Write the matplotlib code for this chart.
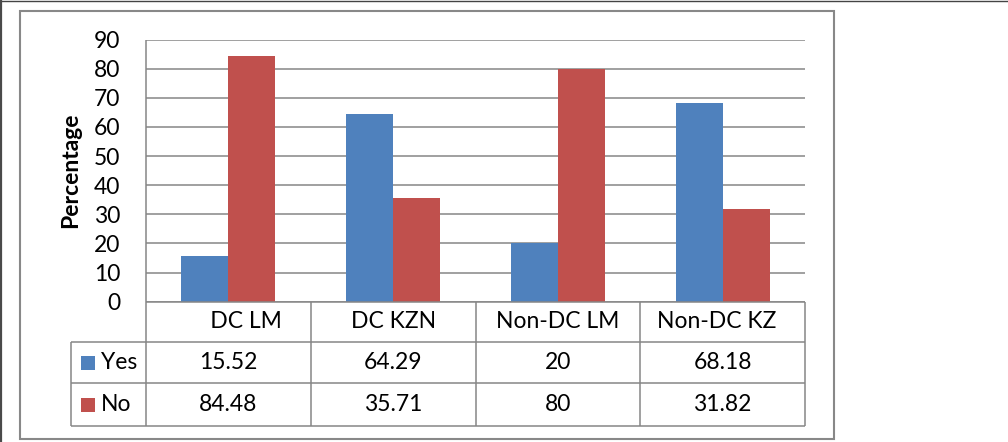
import matplotlib
matplotlib.use("Agg")
import matplotlib.pyplot as plt
from matplotlib.lines import Line2D
from matplotlib.patches import Rectangle
import matplotlib.transforms as mtransforms

# ---- data ----
categories = ["      DC LM", "DC KZN", "Non-DC LM", "Non-DC KZ  "]
series_names = ["Yes", "No"]
yes_values = [15.52, 64.29, 20, 68.18]
no_values = [84.48, 35.71, 80, 31.82]
yes_labels = ["15.52", "64.29", "20", "68.18"]
no_labels = ["84.48", "35.71", "80", "31.82"]
y_ticks = [0, 10, 20, 30, 40, 50, 60, 70, 80, 90]
y_label = "Percentage"

# ---- style ----
W, H, DPI = 1008, 442, 100
BLUE = "#4F81BD"
RED = "#C0504D"
GRID = "#868686"
FONT = "Lato"
FS = 16.5

plt.rcParams["font.family"] = [FONT, "DejaVu Sans"]


def fx(px):
    return px / W


def fy(py):
    return 1 - py / H


fig = plt.figure(figsize=(W / DPI, H / DPI), dpi=DPI)
fig.patch.set_facecolor("white")

# plot area (pixel geometry)
left_px, right_px, top_px, bot_px = 146, 805, 39.5, 301.7
ax = fig.add_axes([fx(left_px), fy(bot_px), fx(right_px - left_px),
                   (bot_px - top_px) / H])
ax.set_facecolor("white")

n = len(categories)
xs = list(range(n))
bw = 0.285
ax.bar([x - bw / 2 for x in xs], yes_values, width=bw, color=BLUE,
       linewidth=0, zorder=3)
ax.bar([x + bw / 2 for x in xs], no_values, width=bw, color=RED,
       linewidth=0, zorder=3)

ax.set_xlim(-0.5, n - 0.5)
ax.set_ylim(0, 90)
ax.set_yticks(y_ticks)
ax.set_yticklabels([str(t) for t in y_ticks], fontsize=FS, color="black")
# tick label pad: 26 px expressed in points
ax.tick_params(axis="y", length=0, pad=26 * 72 / DPI)
ax.set_xticks([])
for s in ax.spines.values():
    s.set_visible(False)
ax.yaxis.grid(True, color=GRID, linewidth=1.1)
ax.set_axisbelow(True)

# y-axis title
fig.text(fx(71), fy(170.6), y_label, rotation=90, ha="center", va="center",
         fontsize=FS, fontweight="bold")

# ---- data table beneath the plot ----
row_y = [bot_px, 341.7, 383.3, 425.7]
table_left = 71
lkw = dict(color=GRID, linewidth=1.1, solid_capstyle="butt")
blend = mtransforms.blended_transform_factory(ax.transData, fig.transFigure)

# horizontal rules
for i, yy in enumerate(row_y):
    x0 = left_px if i == 0 else table_left
    fig.add_artist(Line2D([fx(x0), fx(right_px)], [fy(yy), fy(yy)], **lkw))
# left border of the legend column and the plot's left edge
fig.add_artist(Line2D([fx(table_left)] * 2, [fy(row_y[1]), fy(row_y[3])], **lkw))
fig.add_artist(Line2D([fx(left_px)] * 2, [fy(top_px), fy(row_y[3])], **lkw))
fig.add_artist(Line2D([fx(right_px)] * 2, [fy(row_y[0]), fy(row_y[3])], **lkw))
# category separators
for k in range(1, n):
    fig.add_artist(Line2D([k - 0.5, k - 0.5], [fy(row_y[0]), fy(row_y[3])],
                          transform=blend, **lkw))

# header and cell text
hdr_y = fy((row_y[0] + row_y[1]) / 2)
yes_y = fy((row_y[1] + row_y[2]) / 2)
no_y = fy((row_y[2] + row_y[3]) / 2)
for k in range(n):
    fig.text(k, hdr_y, categories[k], transform=blend, ha="center",
             va="center", fontsize=FS)
    fig.text(k, yes_y, yes_labels[k], transform=blend, ha="center",
             va="center", fontsize=FS)
    fig.text(k, no_y, no_labels[k], transform=blend, ha="center",
             va="center", fontsize=FS)

# legend keys in the first column
for yc, name, col in [(yes_y, series_names[0], BLUE), (no_y, series_names[1], RED)]:
    sq = 14
    fig.add_artist(Rectangle((fx(81), yc - sq / 2 / H), sq / W, sq / H,
                             transform=fig.transFigure, color=col, lw=0))
    fig.text(fx(101), yc, name, ha="left", va="center", fontsize=FS)

# chart area border
fig.add_artist(Rectangle((fx(20), fy(438.5)), fx(834 - 20), (438.5 - 11) / H,
                         transform=fig.transFigure, fill=False,
                         edgecolor="#888888", linewidth=1.5))
# outer frame (top and left edges)
fig.add_artist(Line2D([0, 1], [fy(0.5), fy(0.5)], color="#444444", linewidth=1.0))
fig.add_artist(Line2D([fx(1), fx(1)], [0, 1], color="#4a4a4a", linewidth=1.6))

fig.savefig("out.png", dpi=DPI, facecolor="white")
